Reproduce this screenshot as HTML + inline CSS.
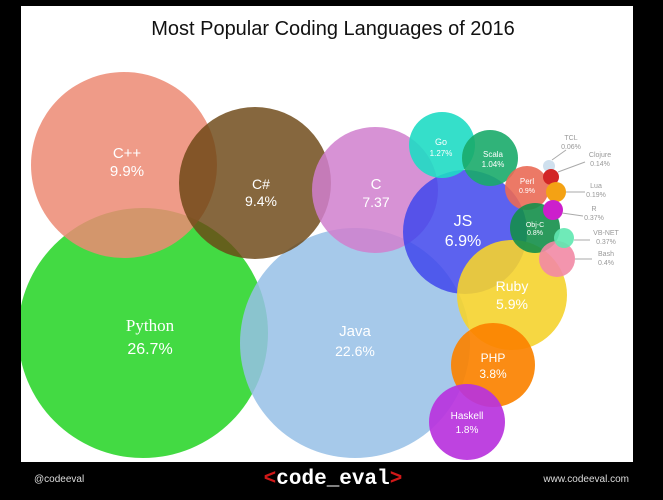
<!DOCTYPE html>
<html><head><style>
body{margin:0;background:#000;width:663px;height:495px;overflow:hidden;font-family:"Liberation Sans",sans-serif}
</style></head><body>
<svg width="663" height="495" xmlns="http://www.w3.org/2000/svg" font-family="Liberation Sans, sans-serif">
<rect width="663" height="495" fill="#000"/>
<rect x="21" y="6" width="612" height="456" fill="#fff"/>
<text x="333" y="35" text-anchor="middle" font-size="20" fill="#111">Most Popular Coding Languages of 2016</text>
<clipPath id="c"><rect x="21" y="6" width="612" height="456"/></clipPath>
<g clip-path="url(#c)">
<circle cx="143" cy="333" r="125" fill="#2fd62f" fill-opacity="0.9"/>
<circle cx="355" cy="343" r="115" fill="#97c0e6" fill-opacity="0.85"/>
<circle cx="124" cy="165" r="93" fill="#ec8a73" fill-opacity="0.85"/>
<circle cx="255" cy="183" r="76" fill="#6b4513" fill-opacity="0.82"/>
<circle cx="375" cy="190" r="63" fill="#d07fce" fill-opacity="0.85"/>
<circle cx="465" cy="232" r="62" fill="#4046ec" fill-opacity="0.85"/>
<circle cx="442" cy="145" r="33" fill="#1fdcc4" fill-opacity="0.9"/>
<circle cx="490" cy="158" r="28" fill="#1aab6a" fill-opacity="0.9"/>
<circle cx="527" cy="188" r="22" fill="#ea6a55" fill-opacity="0.9"/>
<circle cx="512" cy="295" r="55" fill="#f5d32d" fill-opacity="0.9"/>
<circle cx="493" cy="365" r="42" fill="#fb8200" fill-opacity="0.92"/>
<circle cx="467" cy="422" r="38" fill="#b933dd" fill-opacity="0.92"/>
<circle cx="535" cy="228" r="25" fill="#148f4a" fill-opacity="0.9"/>
<circle cx="549" cy="166" r="6" fill="#cfe0ee"/>
<circle cx="551" cy="177" r="8" fill="#d22626"/>
<circle cx="556" cy="192" r="10" fill="#f4a214"/>
<circle cx="553" cy="210" r="10" fill="#cc1fcc"/>
<circle cx="557" cy="259" r="18" fill="#f28aa5" fill-opacity="0.9"/>
<circle cx="564" cy="238" r="10" fill="#5fe8b0" fill-opacity="0.9"/>
</g>
<g stroke="#aaa" stroke-width="1">
<line x1="552" y1="160" x2="566" y2="150"/><line x1="558" y1="172" x2="585" y2="162"/>
<line x1="566" y1="192" x2="585" y2="192"/><line x1="562" y1="213" x2="583" y2="216"/>
<line x1="574" y1="240" x2="590" y2="240"/><line x1="575" y1="259" x2="592" y2="259"/>
</g>
<g fill="#999" font-size="7" text-anchor="middle">
<text x="571" y="140">TCL</text><text x="571" y="149">0.06%</text>
<text x="600" y="157">Clojure</text><text x="600" y="166">0.14%</text>
<text x="596" y="188">Lua</text><text x="596" y="197">0.19%</text>
<text x="594" y="211">R</text><text x="594" y="220">0.37%</text>
<text x="606" y="235">VB-NET</text><text x="606" y="244">0.37%</text>
<text x="606" y="256">Bash</text><text x="606" y="265">0.4%</text>
</g>
<g fill="#fff" text-anchor="middle">
<text x="127" y="158" font-size="15">C++</text><text x="127" y="176" font-size="15">9.9%</text>
<text x="150" y="331" font-family="Liberation Serif, serif" font-size="17">Python</text><text x="150" y="354" font-size="16">26.7%</text>
<text x="261" y="189" font-size="14">C#</text><text x="261" y="206" font-size="14">9.4%</text>
<text x="376" y="189" font-size="15">C</text><text x="376" y="207" font-size="14">7.37</text>
<text x="355" y="336" font-size="15">Java</text><text x="355" y="356" font-size="14">22.6%</text>
<text x="463" y="226" font-size="16">JS</text><text x="463" y="246" font-size="16">6.9%</text>
<text x="441" y="145" font-size="9">Go</text><text x="441" y="156" font-size="8">1.27%</text>
<text x="493" y="157" font-size="8">Scala</text><text x="493" y="167" font-size="8">1.04%</text>
<text x="527" y="184" font-size="8">Perl</text><text x="527" y="193" font-size="7">0.9%</text>
<text x="535" y="227" font-size="7">Obj-C</text><text x="535" y="235" font-size="7">0.8%</text>
<text x="512" y="291" font-size="14">Ruby</text><text x="512" y="309" font-size="14">5.9%</text>
<text x="493" y="362" font-size="12">PHP</text><text x="493" y="378" font-size="12">3.8%</text>
<text x="467" y="419" font-size="10">Haskell</text><text x="467" y="433" font-size="10">1.8%</text>
</g>
<text x="34" y="482" fill="#ddd" font-size="10">@codeeval</text>
<text x="629" y="482" fill="#ddd" font-size="10" text-anchor="end">www.codeeval.com</text>
<text x="333" y="484" text-anchor="middle" font-size="21" font-family="Liberation Mono, monospace" font-weight="bold"><tspan fill="#d01818">&lt;</tspan><tspan fill="#fff">code_eval</tspan><tspan fill="#d01818">&gt;</tspan></text>
</svg>
</body></html>
